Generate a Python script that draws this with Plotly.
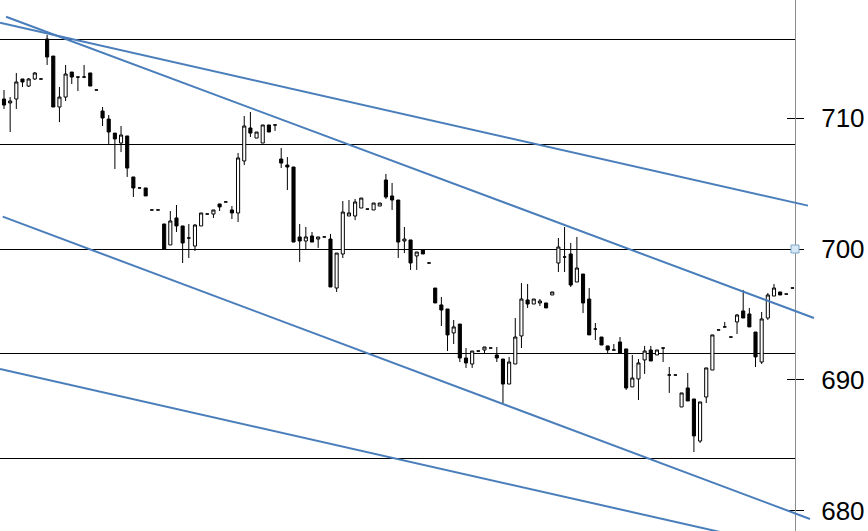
import plotly.graph_objects as go

# ---- data ----
open_ = [711.45,711.15,711.45,712.98,712.44,712.98,712.98,716.03,714.73,710.84,
         711.60,713.51,713.13,713.13,713.44,712.14,710.53,709.92,708.85,708.09,
         708.63,705.50,704.66,704.66,702.98,702.98,701.91,700.31,702.37,701.76,
         700.84,700.23,701.76,702.67,702.67,703.44,703.59,702.98,702.75,706.72,
         709.24,708.47,708.09,709.47,709.47,706.87,706.41,706.26,700.92,700.61,
         700.99,700.76,700.92,700.76,697.02,699.62,702.52,702.52,703.13,703.05,
         702.98,703.28,705.27,704.05,703.74,700.61,700.69,699.47,699.92,698.93,
         697.02,695.73,695.42,693.59,694.27,691.68,691.22,692.21,692.29,692.44,
         691.91,691.60,689.69,691.22,693.36,696.11,695.80,695.88,695.88,696.49,
         698.93,699.39,699.62,697.48,698.09,696.18,693.89,693.28,692.60,692.29,
         692.90,692.37,689.47,690.08,691.53,692.29,691.91,692.44,690.38,690.38,
         687.94,689.39,688.55,685.34,688.70,690.76,693.82,694.05,693.28,694.43,
         695.27,695.04,693.66,691.37,694.73,696.41,696.72,696.56,697.02]
high = [712.14,711.60,713.44,712.98,713.05,713.51,712.98,716.34,714.73,712.37,
        714.05,713.51,713.13,714.05,713.44,712.14,710.84,710.23,708.85,709.39,
        708.63,705.50,704.66,704.66,702.98,702.98,701.91,702.90,703.36,701.76,
        701.91,701.91,702.75,702.67,702.98,703.44,703.59,703.28,707.33,710.15,
        710.46,708.93,709.47,709.47,709.47,707.71,707.02,706.26,701.91,701.68,
        701.30,700.92,700.92,701.15,699.69,703.66,703.74,703.82,703.89,703.05,
        703.51,703.51,705.73,705.04,703.74,701.68,700.69,699.77,699.92,698.93,
        697.02,696.34,695.42,694.58,694.27,692.44,692.21,692.21,692.52,692.44,
        692.52,691.60,691.76,694.73,697.40,697.33,696.18,696.18,695.88,696.72,
        700.84,701.68,700.46,700.92,698.09,697.02,694.35,693.28,692.60,692.75,
        693.28,692.37,691.91,691.60,692.60,692.60,692.29,692.44,690.99,690.38,
        689.01,690.53,688.55,688.32,690.92,693.44,693.82,694.43,693.28,695.04,
        696.87,695.50,693.66,695.19,696.64,697.33,696.72,696.56,697.02]
low = [710.69,708.93,710.69,712.37,712.37,712.90,712.98,714.05,710.84,709.69,
       711.30,712.60,712.06,713.05,712.44,712.14,709.39,708.02,706.11,707.40,
       705.50,703.97,704.66,704.05,702.98,702.98,700.00,700.31,701.30,698.93,
       699.31,699.85,701.76,702.67,702.37,702.90,703.59,702.29,702.06,706.41,
       708.55,708.47,708.09,708.93,709.01,706.18,704.50,700.53,699.01,700.00,
       700.53,700.08,700.92,697.10,696.72,699.31,702.52,702.21,703.13,703.05,
       702.98,703.28,703.82,702.98,699.31,699.69,698.40,698.40,699.62,698.93,
       695.88,694.12,692.21,692.75,691.37,690.92,690.92,692.21,692.06,692.44,
       691.37,688.24,689.69,691.22,692.44,695.50,695.80,695.65,695.50,696.49,
       698.24,698.24,697.10,697.48,695.11,693.44,693.05,692.67,692.06,692.29,
       692.06,689.24,689.47,688.47,690.46,691.45,691.91,691.37,689.01,690.38,
       687.94,688.40,684.50,685.19,688.24,690.76,693.82,694.05,693.28,693.51,
       694.73,694.05,690.99,691.22,694.58,696.41,696.49,696.56,697.02]
close = [710.99,711.30,712.75,712.75,712.98,713.44,712.98,714.66,710.84,711.60,
         713.36,713.13,713.13,713.13,712.44,712.14,710.00,708.93,708.40,708.70,
         706.18,704.66,704.66,704.05,702.98,702.98,700.00,702.14,701.76,700.46,
         700.84,701.83,702.75,702.67,702.98,703.21,703.59,702.75,706.95,709.39,
         708.85,708.93,709.47,708.93,709.47,706.56,706.26,700.53,700.61,700.92,
         700.53,700.92,700.92,697.10,699.69,702.82,702.75,703.59,703.89,703.05,
         703.51,703.51,703.97,703.74,700.53,700.76,698.93,699.77,699.62,698.93,
         695.88,695.34,693.44,694.05,691.68,691.30,692.21,692.21,692.52,692.44,
         691.68,689.69,691.37,693.28,696.18,695.80,696.18,696.03,695.50,696.72,
         700.15,699.39,697.25,698.55,695.88,693.44,693.89,692.67,692.29,692.29,
         692.06,689.39,690.15,691.30,692.21,691.45,692.29,692.44,690.38,690.38,
         689.01,688.40,685.73,688.32,690.92,693.44,693.82,694.05,693.28,694.96,
         694.73,694.05,691.76,694.66,696.49,697.02,696.49,696.56,697.02]
bar_index = list(range(len(close)))

y_ticks = [680, 690, 700, 710]
level_lines = [716, 708, 700, 692, 684]
# trend lines: (start bar, start price, end bar, end price)
trend_lines = [
    (-0.65, 717.27, 130.52, 703.31),
    (0.33, 717.73, 131.49, 694.73),
    (-0.21, 702.47, 130.84, 679.39),
    (-0.65, 690.84, 119.48, 678.05),
]

X_RANGE = [-0.65, 128.41]
Y_RANGE = [678.47, 719.01]

fig = go.Figure()
fig.add_trace(go.Candlestick(
    x=bar_index, open=open_, high=high, low=low, close=close,
    increasing=dict(line=dict(color="black", width=1), fillcolor="white"),
    decreasing=dict(line=dict(color="black", width=1), fillcolor="black"),
    whiskerwidth=0, showlegend=False, hoverinfo="skip",
))
# helper traces: inner half of crossing ticks (y2), horizontal level lines as crisp grid (y3)
fig.add_trace(go.Scatter(x=[0], y=[700], mode="none", yaxis="y2",
                         showlegend=False, hoverinfo="skip"))
fig.add_trace(go.Scatter(x=[0], y=[700], mode="none", yaxis="y3",
                         showlegend=False, hoverinfo="skip"))

shapes = []
span = X_RANGE[1] - X_RANGE[0]
for (xa, ya, xb, yb) in trend_lines:
    shapes.append(dict(type="line", xref="paper", yref="y",
                       x0=(xa - X_RANGE[0]) / span, y0=ya,
                       x1=(xb - X_RANGE[0]) / span, y1=yb,
                       line=dict(color="#4a7ebb", width=2)))

shapes.append(dict(type="rect", xref="paper", yref="y", xsizemode="pixel", ysizemode="pixel",
                   xanchor=1, yanchor=700, x0=-4, x1=4, y0=-4, y1=4,
                   fillcolor="#d6e8f5", line=dict(color="#7fa7c8", width=1)))

fig.update_layout(
    width=868, height=531,
    margin=dict(l=0, r=73, t=0, b=0),
    paper_bgcolor="white", plot_bgcolor="white",
    boxgap=0.28,
    shapes=shapes,
    xaxis=dict(range=X_RANGE, visible=False, rangeslider=dict(visible=False),
               showgrid=False, zeroline=False),
    yaxis=dict(range=Y_RANGE, side="right", tickvals=y_ticks,
               ticks="outside", ticklen=8, tickcolor="black", tickwidth=1,
               showline=True, linecolor="#8c8c8c", linewidth=1,
               showgrid=False, zeroline=False, ticklabelstandoff=12,
               tickfont=dict(family="Liberation Sans, Arial, sans-serif", size=26, color="black")),
    yaxis2=dict(range=Y_RANGE, overlaying="y", side="right", tickvals=y_ticks,
                ticks="inside", ticklen=8, tickcolor="black", tickwidth=1,
                showticklabels=False, showline=False, showgrid=False, zeroline=False),
    yaxis3=dict(range=Y_RANGE, overlaying="y", side="right", tickvals=level_lines,
                ticks="", showticklabels=False, showline=False, zeroline=False,
                showgrid=True, gridcolor="black", gridwidth=1),
    hovermode=False,
)

fig.write_html(
    "out.html",
    config={"displayModeBar": False, "staticPlot": True},
    post_script="document.body.style.margin='0';document.body.style.padding='0';"
                "document.documentElement.style.overflow='hidden';",
)
